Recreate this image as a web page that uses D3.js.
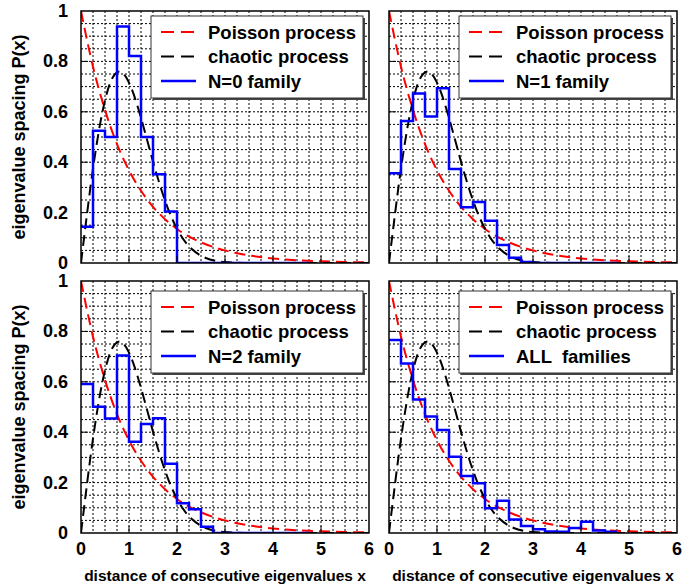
<!DOCTYPE html>
<html>
<head>
<meta charset="utf-8">
<script src="https://cdn.jsdelivr.net/npm/d3@7"></script>
<style>
  body { margin: 0; background: #fff; }
  text { font-family: "Liberation Sans", Arial, sans-serif; font-weight: bold; fill: #000; }
</style>
</head>
<body>
<div id="chart"></div>
<script>
// histogram bin edges (width 0.25)
const binEdges = [0, 0.25, 0.5, 0.75, 1, 1.25, 1.5, 1.75, 2, 2.25, 2.5, 2.75, 3, 3.25, 3.5, 3.75, 4, 4.25, 4.5, 4.75];

// histogram heights
const histN0 = [0.144, 0.525, 0.50, 0.938, 0.821, 0.50, 0.352, 0.204, 0, 0, 0, 0, 0, 0, 0, 0, 0, 0, 0];
const histN1 = [0.356, 0.563, 0.673, 0.581, 0.693, 0.373, 0.221, 0.242, 0.168, 0.071, 0.021, 0.004, 0, 0, 0, 0, 0, 0, 0];
const histN2 = [0.591, 0.501, 0.454, 0.704, 0.362, 0.433, 0.455, 0.275, 0.118, 0.094, 0.025, 0, 0, 0, 0, 0, 0, 0, 0];
const histAll = [0.766, 0.673, 0.530, 0.462, 0.409, 0.303, 0.226, 0.197, 0.098, 0.128, 0.054, 0.028, 0.015, 0.006, 0.005, 0.02, 0.045, 0.01, 0.005];

// reference curves
const poissonX = [0, 0.25, 0.5, 0.75, 1, 1.25, 1.5, 1.75, 2, 2.5, 3, 3.5, 4, 4.5, 5, 5.5, 6];
const poissonY = [1, 0.779, 0.607, 0.472, 0.368, 0.287, 0.223, 0.174, 0.135, 0.082, 0.050, 0.030, 0.018, 0.011, 0.007, 0.004, 0.0025];
const chaosX = [0, 0.1, 0.2, 0.3, 0.4, 0.5, 0.6, 0.7, 0.8, 0.9, 1.0, 1.1, 1.2, 1.3, 1.4, 1.5, 1.6, 1.7, 1.8, 1.9, 2.0, 2.2, 2.4, 2.6, 2.8, 3.0, 3.5, 4, 5, 6];
const chaosY = [0, 0.156, 0.305, 0.439, 0.554, 0.645, 0.711, 0.748, 0.760, 0.748, 0.716, 0.668, 0.608, 0.542, 0.472, 0.402, 0.337, 0.276, 0.222, 0.175, 0.136, 0.077, 0.041, 0.020, 0.009, 0.004, 0.0003, 0, 0, 0];

const xTicks = [0, 1, 2, 3, 4, 5, 6];
const yTicks = [0, 0.2, 0.4, 0.6, 0.8, 1];
const legendNames = ["Poisson process", "chaotic process"];

const panels = [
  { hist: histN0, name: "N=0 family", col: 0, row: 0 },
  { hist: histN1, name: "N=1 family", col: 1, row: 0 },
  { hist: histN2, name: "N=2 family", col: 0, row: 1 },
  { hist: histAll, name: "ALL  families", col: 1, row: 1 }
];

const W = 699, H = 585;
const colX = [81, 389], pw = 288;
const rowY = [11, 281], ph = 252;

const svg = d3.select("#chart").append("svg")
  .attr("width", W).attr("height", H);

panels.forEach((p, pi) => {
  const x0 = colX[p.col], y0 = rowY[p.row];
  const x = d3.scaleLinear().domain([0, 6]).range([x0, x0 + pw]);
  const y = d3.scaleLinear().domain([0, 1]).range([y0 + ph, y0]);
  const g = svg.append("g");

  const clipId = "clip" + pi;
  g.append("clipPath").attr("id", clipId)
    .append("rect").attr("x", x0).attr("y", y0 - 2).attr("width", pw).attr("height", ph + 2);

  // dotted grid
  g.append("g").selectAll("line")
    .data(d3.range(1, 24).map(i => i * 0.25))
    .join("line")
    .attr("x1", d => x(d)).attr("x2", d => x(d))
    .attr("y1", y0).attr("y2", y0 + ph)
    .attr("stroke", "#000").attr("stroke-width", 1).attr("stroke-dasharray", "2,2");
  g.append("g").selectAll("line")
    .data(d3.range(1, 20).map(i => i * 0.05))
    .join("line")
    .attr("x1", x0).attr("x2", x0 + pw)
    .attr("y1", d => y(d)).attr("y2", d => y(d))
    .attr("stroke", "#000").attr("stroke-width", 1).attr("stroke-dasharray", "2,2");

  const plot = g.append("g").attr("clip-path", `url(#${clipId})`);
  const curve = d3.line().x(d => x(d[0])).y(d => y(d[1])).curve(d3.curveMonotoneX);

  plot.append("path")
    .attr("d", curve(poissonX.map((v, i) => [v, poissonY[i]])))
    .attr("fill", "none").attr("stroke", "#ff0000").attr("stroke-width", 2)
    .attr("stroke-dasharray", "11,6");
  plot.append("path")
    .attr("d", curve(chaosX.map((v, i) => [v, chaosY[i]])))
    .attr("fill", "none").attr("stroke", "#000").attr("stroke-width", 2)
    .attr("stroke-dasharray", "11,6");

  // histogram as a step line
  const pts = [];
  p.hist.forEach((v, i) => { pts.push([binEdges[i], v]); pts.push([binEdges[i + 1], v]); });
  plot.append("path")
    .attr("d", d3.line().x(d => x(d[0])).y(d => y(d[1]))(pts))
    .attr("fill", "none").attr("stroke", "#0000ff").attr("stroke-width", 2.5);

  // frame
  g.append("rect")
    .attr("x", x0).attr("y", y0).attr("width", pw).attr("height", ph)
    .attr("fill", "none").attr("stroke", "#000").attr("stroke-width", 1.5);

  // tick marks on the frame
  g.append("g").selectAll("line").data(xTicks.slice(1, -1)).join("line")
    .attr("x1", d => x(d)).attr("x2", d => x(d))
    .attr("y1", y0 + ph).attr("y2", y0 + ph - 7)
    .attr("stroke", "#000").attr("stroke-width", 1);
  g.append("g").selectAll("line").data(yTicks.slice(1, -1)).join("line")
    .attr("x1", x0).attr("x2", x0 + 7)
    .attr("y1", d => y(d)).attr("y2", d => y(d))
    .attr("stroke", "#000").attr("stroke-width", 1);

  // tick labels
  if (p.row === 1) {
    g.append("g").selectAll("text").data(xTicks).join("text")
      .attr("x", d => x(d)).attr("y", y0 + ph + 22)
      .attr("text-anchor", "middle").style("font-size", "18px")
      .text(d => d);
    g.append("text")
      .attr("x", x0 + pw / 2).attr("y", 581)
      .attr("text-anchor", "middle").style("font-size", "15.5px")
      .text("distance of consecutive eigenvalues x");
  }
  if (p.col === 0) {
    g.append("g").selectAll("text").data(yTicks).join("text")
      .attr("x", 68).attr("y", d => y(d) + 6)
      .attr("text-anchor", "end").style("font-size", "18px")
      .text(d => d);
    g.append("text")
      .attr("transform", `translate(25,${y0 + ph / 2}) rotate(-90)`)
      .attr("text-anchor", "middle").style("font-size", "18px")
      .text("eigenvalue spacing P(x)");
  }

  // legend
  const lx = x0 + 70, ly = y0 + (p.row === 0 ? 5 : 10), lw = pw - 76, lh = 82;
  const lg = g.append("g");
  lg.append("rect").attr("x", lx + 2).attr("y", ly + 2).attr("width", lw).attr("height", lh)
    .attr("fill", "#444");
  lg.append("rect").attr("x", lx).attr("y", ly).attr("width", lw).attr("height", lh)
    .attr("fill", "#fff").attr("stroke", "#333").attr("stroke-width", 1);
  const items = [
    { name: legendNames[0], color: "#ff0000", dash: "13,7" },
    { name: legendNames[1], color: "#000", dash: "13,7" },
    { name: p.name, color: "#0000ff", dash: null }
  ];
  items.forEach((it, i) => {
    const cy = ly + 16 + i * 24.5;
    lg.append("line")
      .attr("x1", lx + 10).attr("x2", lx + 45)
      .attr("y1", cy).attr("y2", cy)
      .attr("stroke", it.color).attr("stroke-width", it.dash ? 2 : 2.5)
      .attr("stroke-dasharray", it.dash);
    lg.append("text")
      .attr("x", lx + 57).attr("y", cy + 6.5)
      .style("font-size", "18.5px").style("white-space", "pre")
      .text(it.name);
  });
});
</script>
</body>
</html>
